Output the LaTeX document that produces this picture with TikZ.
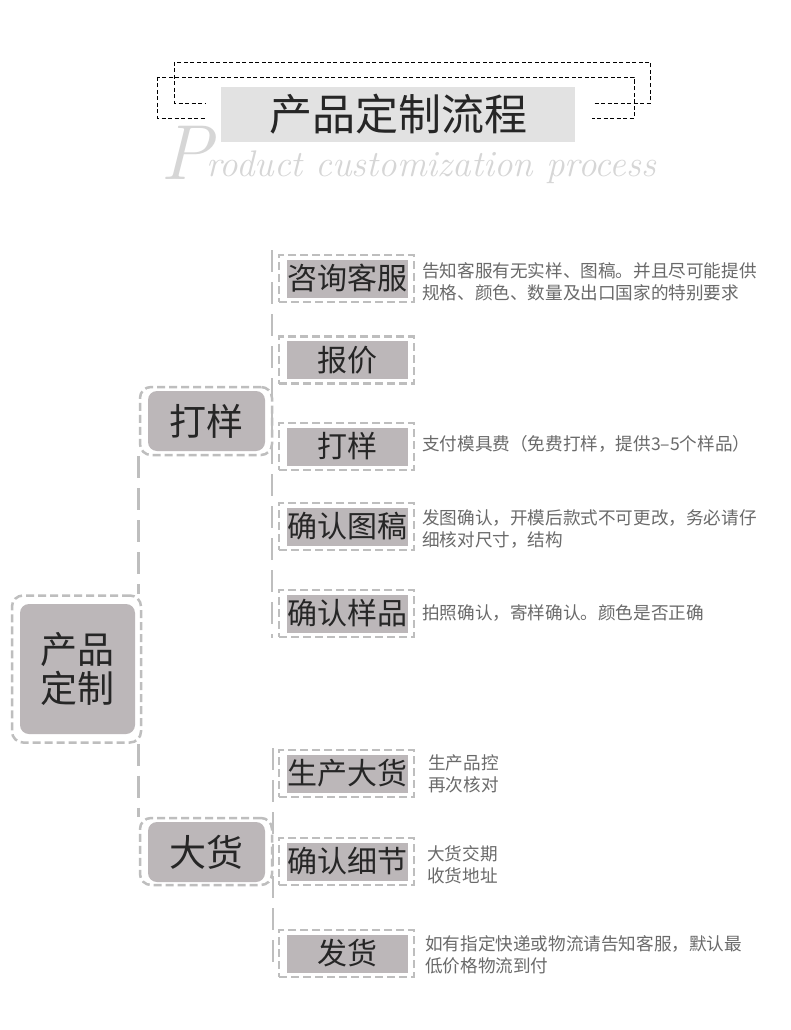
\documentclass[tikz,border=0pt]{standalone}
\usepackage{fontspec}
\newfontfamily\cjk{Noto Sans CJK SC}
\definecolor{boxgray}{HTML}{BCB7B9}
\definecolor{dashgray}{HTML}{BEBEBE}
\definecolor{descgray}{HTML}{6A6A6A}
\definecolor{bandgray}{HTML}{E2E2E2}
\definecolor{scriptgray}{HTML}{D6D6D6}
\definecolor{inkblack}{HTML}{262626}
\begin{document}
\begin{tikzpicture}[x=1pt,y=-1pt,
  titleframe/.style={draw=black, line width=0.8pt, dash pattern=on 4pt off 2.5pt},
  outerframe/.style={draw=dashgray, line width=2.5pt, dash pattern=on 8pt off 4pt, inner sep=0pt},
  roundframe/.style={outerframe, rounded corners=11pt},
  conn/.style={draw=dashgray, line width=2.6pt, dash pattern=on 22pt off 10pt},
  bigbox/.style={fill=boxgray, rounded corners=9pt, inner sep=0pt, text=inkblack, align=center},
  stepbox/.style={fill=boxgray, inner sep=0pt, minimum width=121pt, minimum height=38pt, text=inkblack, font=\cjk\fontsize{30}{30}\selectfont},
  stepframe/.style={outerframe, minimum width=135pt, minimum height=47pt},
  desc/.style={anchor=west, inner sep=0pt, align=left, text=descgray, font=\cjk\fontsize{17.6}{22}\selectfont}
]
\useasboundingbox (0,0) rectangle (790,1030);
\fill[white] (0,0) rectangle (790,1030);

% ---- title ----
\draw[titleframe] (174,62) rectangle (650,103);
\draw[titleframe] (157,77) rectangle (634,118);
\fill[white] (206,82) rectangle (592,140);
\node[fill=bandgray, minimum width=354pt, minimum height=55pt, inner sep=0pt,
      text=inkblack, font=\cjk\fontsize{43}{43}\selectfont] (title) at (398,114.5) {产品定制流程};
\node[anchor=base west, inner sep=0pt, text=scriptgray, font=\fontsize{78}{78}\selectfont\itshape] (bigP) at (160,179) {P};
\node[anchor=base west, inner sep=0pt, text=scriptgray, font=\fontsize{37}{37}\selectfont\itshape] (sub) at (206,176) {roduct customization process};

% ---- root ----
\node[roundframe, minimum width=129pt, minimum height=147pt] (cpf) at (76.5,669) {};
\node[bigbox, minimum width=115pt, minimum height=130pt, font=\cjk\fontsize{37}{39}\selectfont] (cp) at (77.5,669) {产品\\定制};

% ---- level 1 ----
\node[roundframe, minimum width=132pt, minimum height=68pt] (dyf) at (206,421) {};
\node[bigbox, minimum width=117pt, minimum height=60pt, font=\cjk\fontsize{37}{37}\selectfont] (dy) at (206.5,421) {打样};
\node[roundframe, minimum width=132pt, minimum height=67pt] (dhf) at (206,851.5) {};
\node[bigbox, minimum width=117pt, minimum height=60pt, font=\cjk\fontsize{37}{37}\selectfont] (dh) at (206.5,852) {大货};

% ---- connectors ----
\draw[conn] (dyf.south west) -- (dyf.south west |- cpf.north);
\draw[conn] (dhf.north west |- cpf.south) -- (dhf.north west);
\coordinate (ta) at (272,250);
\coordinate (tb) at (272,638);
\coordinate (tc) at (273,748);
\coordinate (td) at (273,972);
\draw[conn] (ta) -- (tb);
\draw[conn] (tc) -- (td);

% ---- level 2 ----
\foreach \nm/\y/\txt in {a/278.5/咨询客服, b/360/报价, c/446.5/打样, d/526.5/确认图稿, e/613.5/确认样品,
                         f/773.5/生产大货, g/861.5/确认细节, h/953.5/发货}{
  \node[stepframe] (s\nm f) at (346.5,\y) {};
  \node[stepbox] (s\nm) at (347.5,\y) {\txt};
}

% ---- descriptions ----
\node[desc] (da) at (422,282) {告知客服有无实样、图稿。并且尽可能提供\\规格、颜色、数量及出口国家的特别要求};
\node[desc] (dc) at (422,444) {支付模具费（免费打样，提供3–5个样品）};
\node[desc] (dd) at (422,529) {发图确认，开模后款式不可更改，务必请仔\\细核对尺寸，结构};
\node[desc] (de) at (422,613) {拍照确认，寄样确认。颜色是否正确};
\node[desc] (df) at (428,774) {生产品控\\再次核对};
\node[desc] (dg) at (427,864.5) {大货交期\\收货地址};
\node[desc] (dh2) at (425,955) {如有指定快递或物流请告知客服，默认最\\低价格物流到付};
\end{tikzpicture}
\end{document}
